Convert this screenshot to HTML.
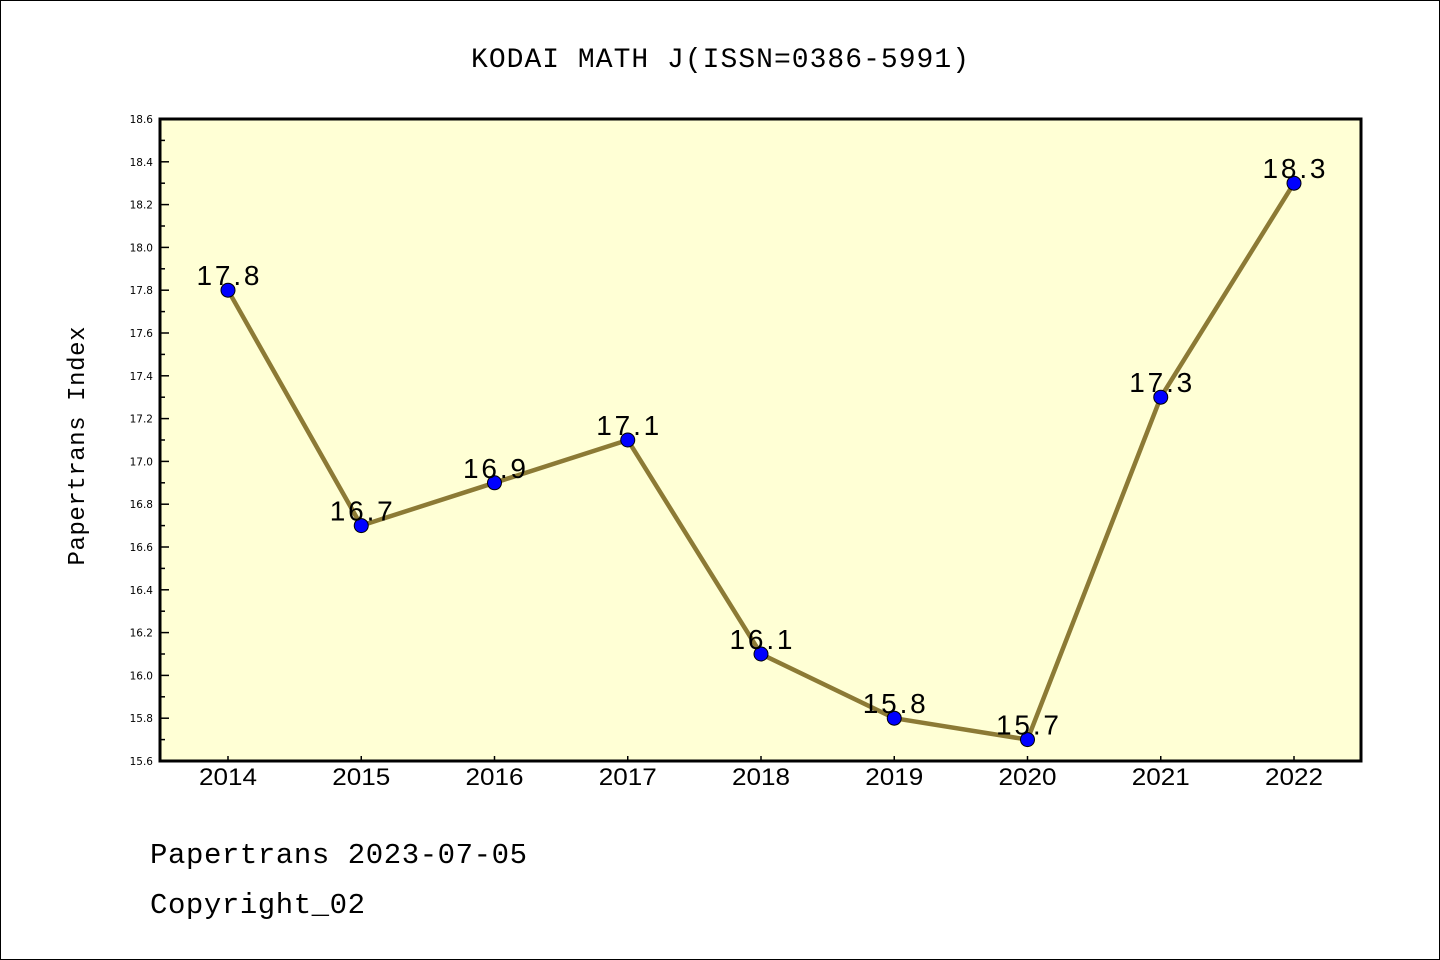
<!DOCTYPE html>
<html><head><meta charset="utf-8"><style>
body{margin:0;background:#fff}
svg{display:block}
</style></head><body>
<svg id="chart" width="1440" height="960" viewBox="0 0 1440 960" xmlns="http://www.w3.org/2000/svg">
<rect x="0.5" y="0.5" width="1439" height="959" fill="#fff" stroke="#000"/>
<text x="720" y="67" text-anchor="middle" font-family="Liberation Mono, monospace" font-size="28" textLength="498">KODAI MATH J(ISSN=0386-5991)</text>
<rect x="160" y="119" width="1201" height="642" fill="#ffffd5"/>
<g id="axes"></g>
<g id="marks"></g>
<rect x="160" y="119" width="1201" height="642" fill="none" stroke="#000" stroke-width="3"/>
<text transform="translate(84,446) rotate(-90)" text-anchor="middle" font-family="Liberation Mono, monospace" font-size="24" textLength="239">Papertrans Index</text>
<text x="150" y="863" font-family="Liberation Mono, monospace" font-size="29" textLength="377">Papertrans 2023-07-05</text>
<text x="150" y="913" font-family="Liberation Mono, monospace" font-size="29" textLength="215">Copyright_02</text>
</svg>
<script>
const years = ['2014','2015','2016','2017','2018','2019','2020','2021','2022'];
const values = [17.8,16.7,16.9,17.1,16.1,15.8,15.7,17.3,18.3];
const yTicks = [15.6,15.8,16.0,16.2,16.4,16.6,16.8,17.0,17.2,17.4,17.6,17.8,18.0,18.2,18.4,18.6];
const NS='http://www.w3.org/2000/svg';
const yMin=15.6,yMax=18.6,plotTop=119,plotBot=761,plotLeft=160;
const x0=228,xStep=133.25;
const xS=i=>x0+i*xStep;
const yS=v=>plotBot-(v-yMin)/(yMax-yMin)*(plotBot-plotTop);
function mk(tag,attrs,parent){const e=document.createElementNS(NS,tag);for(const k in attrs)e.setAttribute(k,attrs[k]);parent.appendChild(e);return e;}
const axesG=document.getElementById('axes'),marksG=document.getElementById('marks');
yTicks.forEach((t,i)=>{
  const y=yS(t);
  const tk=mk('line',{x1:plotLeft,x2:plotLeft+9,y1:y,y2:y,stroke:'#000','stroke-width':1.5},axesG);
  
  
  const lb=mk('text',{x:153,y:y+4,'text-anchor':'end','font-family':'DejaVu Sans, sans-serif','font-size':10.5},axesG);
  lb.textContent=t.toFixed(1);
  
  
  if(i<yTicks.length-1){
    const ym=yS(t+0.1);
    const mt=mk('line',{x1:plotLeft,x2:plotLeft+5,y1:ym,y2:ym,stroke:'#000','stroke-width':1.5},axesG);
    
    
  }
});
years.forEach((yr,i)=>{
  const x=xS(i);
  const tk=mk('line',{x1:x,x2:x,y1:plotBot,y2:plotBot-5,stroke:'#000','stroke-width':1.5},axesG);
  
  
  const lb=mk('text',{x:x,y:785,'text-anchor':'middle','font-family':'Liberation Sans, sans-serif','font-size':24,textLength:58,lengthAdjust:'spacingAndGlyphs'},axesG);
  lb.textContent=yr;
  
  
});
const pts=values.map((v,i)=>xS(i)+','+yS(v)).join(' ');
const line=mk('polyline',{points:pts,fill:'none',stroke:'#8c7a35','stroke-width':4.5,'stroke-linejoin':'round'},marksG);


values.forEach((v,i)=>{
  const c=mk('circle',{cx:xS(i),cy:yS(v),r:7,fill:'#0000ff',stroke:'#000','stroke-width':1},marksG);
  
  
  const t=mk('text',{x:xS(i),y:yS(v)-5,'text-anchor':'middle','font-family':'Liberation Sans, sans-serif','font-size':28,textLength:63},marksG);
  t.textContent=v.toFixed(1);
  
  
});
</script>
</body></html>
